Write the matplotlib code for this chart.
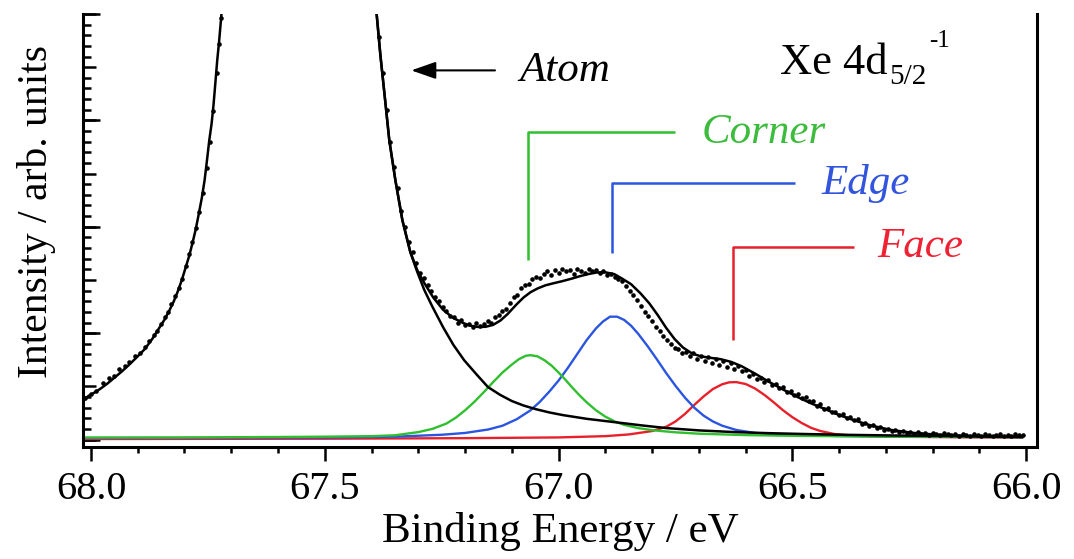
import matplotlib
matplotlib.use('Agg')
import matplotlib.pyplot as plt
import numpy as np

plt.rcParams['font.family'] = ['Liberation Serif', 'DejaVu Serif']

# fitted envelope, high-BE side of the atomic line
fit_left_e = [68.017, 68.006, 67.994, 67.981, 67.966, 67.951, 67.934, 67.917, 67.901, 67.885,
              67.869, 67.853, 67.842, 67.832, 67.823, 67.815, 67.806, 67.798, 67.790, 67.783,
              67.776, 67.770, 67.763, 67.757, 67.752, 67.747, 67.742, 67.738, 67.734, 67.730,
              67.726, 67.723, 67.721, 67.718]
fit_left_i = [3.62, 4.08, 4.38, 4.74, 5.22, 5.77, 6.40, 7.09, 7.78, 8.50,
              9.45, 10.56, 11.32, 12.16, 12.98, 13.85, 14.95, 16.10, 17.25, 18.45,
              19.75, 21.08, 22.70, 24.37, 26.20, 28.12, 29.70, 31.41, 33.50, 35.63,
              37.40, 38.92, 39.95, 41.5]

# fitted envelope, low-BE side (atom + cluster components)
fit_right_e = [67.392, 67.389, 67.381, 67.372, 67.362, 67.349, 67.334, 67.317, 67.302, 67.287,
               67.268, 67.247, 67.226, 67.204, 67.188, 67.172, 67.156, 67.140, 67.124, 67.109,
               67.090, 67.075, 67.060, 67.045, 67.028, 67.010, 66.991, 66.970, 66.955, 66.937,
               66.919, 66.900, 66.881, 66.865, 66.845, 66.825, 66.806, 66.788, 66.770, 66.752,
               66.734, 66.715, 66.696, 66.675, 66.653, 66.631, 66.609, 66.580, 66.549, 66.520,
               66.489, 66.460, 66.430, 66.400, 66.364, 66.330, 66.289, 66.240, 66.179, 66.100,
               66.009]
fit_right_i = [41.5, 39.95, 36.10, 32.35, 28.12, 24.37, 20.61, 17.61, 15.90, 14.70,
               13.35, 12.20, 11.45, 10.95, 10.70, 10.58, 10.60, 10.78, 11.20, 11.80,
               12.70, 13.35, 13.85, 14.20, 14.50, 14.70, 14.90, 15.15, 15.35, 15.55,
               15.70, 15.72, 15.55, 15.15, 14.60, 13.75, 12.80, 11.70, 10.50, 9.45,
               8.65, 8.10, 7.82, 7.68, 7.55, 7.30, 6.90, 6.20, 5.40, 4.70,
               4.00, 3.40, 2.86, 2.30, 1.75, 1.30, 0.90, 0.62, 0.42, 0.30,
               0.23]

# atomic component tail
atom_e = [67.392, 67.389, 67.381, 67.372, 67.362, 67.349, 67.334, 67.317, 67.302, 67.287,
          67.270, 67.247, 67.225, 67.202, 67.175, 67.151, 67.125, 67.100, 67.075, 67.049,
          67.020, 66.991, 66.940, 66.881, 66.820, 66.770, 66.700, 66.623, 66.550, 66.474,
          66.380, 66.279, 66.150, 66.009]
atom_i = [41.5, 39.95, 36.10, 32.35, 28.12, 24.37, 20.61, 17.61, 15.73, 14.04,
          12.50, 10.56, 8.90, 7.46, 6.10, 4.93, 4.20, 3.62, 3.20, 2.86,
          2.55, 2.30, 1.95, 1.64, 1.32, 1.08, 0.86, 0.70, 0.60, 0.52,
          0.44, 0.38, 0.32, 0.28]

# cluster components
corner_e = [68.017, 67.800, 67.600, 67.500, 67.400, 67.350, 67.300, 67.270, 67.240, 67.220,
            67.200, 67.180, 67.160, 67.140, 67.120, 67.100, 67.085, 67.070, 67.060, 67.045,
            67.030, 67.015, 67.000, 66.985, 66.970, 66.955, 66.940, 66.920, 66.900, 66.880,
            66.860, 66.830, 66.800, 66.750, 66.700, 66.600, 66.500, 66.300, 66.009]
corner_i = [0.19, 0.20, 0.24, 0.27, 0.32, 0.40, 0.70, 1.00, 1.50, 2.05,
            2.75, 3.55, 4.45, 5.40, 6.30, 7.05, 7.55, 7.88, 7.93, 7.82,
            7.45, 6.95, 6.30, 5.60, 4.85, 4.15, 3.50, 2.75, 2.15, 1.70,
            1.38, 1.08, 0.88, 0.68, 0.55, 0.42, 0.35, 0.28, 0.23]

edge_e = [68.017, 67.700, 67.500, 67.350, 67.250, 67.200, 67.150, 67.120, 67.090, 67.060,
          67.040, 67.020, 67.000, 66.980, 66.960, 66.940, 66.920, 66.905, 66.890, 66.875,
          66.860, 66.845, 66.830, 66.810, 66.790, 66.770, 66.750, 66.730, 66.710, 66.690,
          66.670, 66.650, 66.620, 66.580, 66.520, 66.400, 66.200, 66.009]
edge_i = [0.14, 0.16, 0.19, 0.27, 0.45, 0.62, 0.95, 1.30, 1.90, 2.75,
          3.55, 4.50, 5.55, 6.75, 8.05, 9.35, 10.45, 11.10, 11.55, 11.55,
          11.25, 10.70, 9.95, 8.80, 7.55, 6.25, 5.05, 3.95, 3.00, 2.25,
          1.70, 1.30, 0.90, 0.62, 0.45, 0.33, 0.26, 0.23]

face_e = [68.017, 67.500, 67.200, 67.000, 66.900, 66.850, 66.800, 66.770, 66.750, 66.730,
          66.710, 66.690, 66.670, 66.650, 66.635, 66.620, 66.600, 66.580, 66.560, 66.540,
          66.520, 66.500, 66.480, 66.460, 66.440, 66.410, 66.370, 66.300, 66.150, 66.009]
face_i = [0.05, 0.08, 0.13, 0.20, 0.32, 0.48, 0.80, 1.20, 1.70, 2.40,
          3.25, 4.05, 4.75, 5.20, 5.38, 5.40, 5.22, 4.80, 4.20, 3.50,
          2.75, 2.10, 1.55, 1.10, 0.80, 0.52, 0.36, 0.27, 0.22, 0.19]

# measured points
dots_e = [68.012, 68.000, 67.990, 67.975, 67.962, 67.950, 67.940, 67.928, 67.918, 67.905,
          67.895, 67.885, 67.875, 67.866, 67.858, 67.850, 67.842, 67.835, 67.828, 67.820,
          67.812, 67.805, 67.797, 67.790, 67.783, 67.776, 67.768, 67.760, 67.752, 67.745,
          67.738, 67.731, 67.726, 67.722,
          67.384, 67.376, 67.368, 67.360, 67.352, 67.344, 67.336, 67.328, 67.320, 67.312,
          67.304, 67.296, 67.288, 67.280, 67.272, 67.264, 67.256, 67.248, 67.240, 67.232,
          67.224, 67.216, 67.208, 67.200, 67.192, 67.184, 67.176, 67.168, 67.160, 67.152,
          67.144, 67.136, 67.128, 67.120, 67.112, 67.104, 67.096, 67.088, 67.080, 67.072,
          67.064, 67.056, 67.048, 67.040, 67.032, 67.024, 67.016, 67.008, 67.000, 66.992,
          66.984, 66.976, 66.968, 66.960, 66.952, 66.944, 66.936, 66.928, 66.920, 66.912,
          66.904, 66.896, 66.888, 66.880, 66.872, 66.864, 66.856, 66.848, 66.840, 66.832,
          66.824, 66.816, 66.808, 66.800, 66.792, 66.784, 66.776, 66.768, 66.760, 66.752,
          66.744, 66.736, 66.728, 66.720, 66.712, 66.704, 66.696, 66.688, 66.680, 66.672,
          66.664, 66.656, 66.648, 66.640, 66.632, 66.624, 66.616, 66.608, 66.600, 66.592,
          66.584, 66.576, 66.568, 66.560, 66.552, 66.544, 66.536, 66.528, 66.520, 66.512,
          66.504, 66.496, 66.488, 66.480, 66.472, 66.464, 66.456, 66.448, 66.440, 66.432,
          66.424, 66.416, 66.408, 66.400, 66.392, 66.384, 66.376, 66.368, 66.360, 66.352,
          66.344, 66.336, 66.328, 66.320, 66.312, 66.304, 66.296, 66.288, 66.280, 66.272,
          66.264, 66.256, 66.248, 66.240, 66.232, 66.224, 66.216, 66.208, 66.200, 66.192,
          66.184, 66.176, 66.168, 66.160, 66.152, 66.144, 66.136, 66.128, 66.120, 66.112,
          66.104, 66.096, 66.088, 66.080, 66.072, 66.064, 66.056, 66.048, 66.040, 66.032,
          66.024, 66.016, 66.008]
dots_i = [3.9, 4.3, 4.6, 5.3, 5.8, 6.0, 6.6, 6.9, 7.3, 7.9,
          8.1, 8.7, 9.3, 9.8, 10.2, 10.9, 11.5, 12.0, 12.7, 13.5,
          14.2, 15.1, 16.3, 17.4, 18.6, 19.9, 21.4, 23.2, 25.5, 28.0,
          30.9, 34.5, 37.2, 39.6,
          37.8, 34.5, 31.0, 28.0, 25.6, 23.6, 21.5, 20.0, 18.6, 17.6,
          16.6, 15.7, 15.2, 14.5, 14.0, 13.4, 13.0, 12.5, 12.1, 11.6,
          11.5, 11.0, 11.2, 10.8, 10.9, 10.6, 11.0, 10.7, 10.9, 11.1,
          11.0, 11.5, 11.7, 12.1, 12.3, 12.8, 13.4, 13.6, 14.2, 14.5,
          14.6, 15.1, 15.3, 15.2, 15.6, 15.8, 15.5, 15.9, 15.7, 16.0,
          15.8, 15.9, 15.6, 16.0, 15.8, 15.7, 16.0, 15.8, 15.9, 15.7,
          15.8, 15.5, 15.6, 15.3, 15.1, 14.9, 14.4, 14.0, 13.6, 13.1,
          12.6, 12.0, 11.6, 11.1, 10.6, 10.2, 9.7, 9.4, 9.0, 8.6,
          8.5, 8.1, 8.2, 7.9, 8.1, 7.6, 7.9, 7.4, 7.8, 7.2,
          7.6, 7.0, 7.4, 6.8, 7.2, 6.6, 6.9, 6.4, 6.5, 6.0,
          6.2, 5.7, 5.8, 5.4, 5.6, 5.1, 5.2, 4.8, 4.9, 4.5,
          4.6, 4.2, 4.3, 3.9, 4.0, 3.6, 3.6, 3.2, 3.3, 2.9,
          3.0, 2.6, 2.6, 2.3, 2.4, 2.0, 2.1, 1.8, 1.9, 1.5,
          1.6, 1.3, 1.4, 1.1, 1.2, 0.9, 1.0, 0.8, 0.9, 0.7,
          0.8, 0.6, 0.7, 0.5, 0.7, 0.5, 0.6, 0.4, 0.6, 0.5,
          0.4, 0.6, 0.5, 0.4, 0.5, 0.3, 0.5, 0.4, 0.3, 0.5,
          0.4, 0.3, 0.5, 0.4, 0.3, 0.4, 0.5, 0.3, 0.4, 0.3,
          0.5, 0.4, 0.4]

# component labels and marker positions
comp_names = ["Corner", "Edge", "Face"]
comp_centers = [67.066, 66.885, 66.626]
comp_colors = ["#2fbf2f", "#2a55e0", "#e8202a"]
label_colors = ["#3cbb3c", "#3355dd", "#ee2233"]
marker_bottom = [16.85, 17.51, 9.34]
marker_top = [28.87, 24.08, 18.08]
marker_end = [66.751, 66.494, 66.368]
text_left = [66.694, 66.438, 66.319]

x_ticks = [68.0, 67.5, 67.0, 66.5, 66.0]
x_ticklabels = ["68.0", "67.5", "67.0", "66.5", "66.0"]

W, H = 1074, 559
fig = plt.figure(figsize=(W / 100, H / 100), dpi=100)
ax = fig.add_axes([83 / W, 1 - 447 / H, 954 / W, 433 / H])

ax.plot(face_e, face_i, color=comp_colors[2], lw=1.7)
ax.plot(edge_e, edge_i, color=comp_colors[1], lw=1.7)
ax.plot(corner_e, corner_i, color=comp_colors[0], lw=1.7)
ax.plot(atom_e, atom_i, color='black', lw=1.8)
ax.plot(fit_right_e, fit_right_i, color='black', lw=1.8)
ax.plot(fit_left_e, fit_left_i, color='black', lw=1.8)
ax.plot(dots_e, dots_i, 'o', color='black', ms=3.3, mew=0)

# bracket markers for the cluster components
for name, c, col, lc, yb, yt, xe, xt in zip(comp_names, comp_centers, comp_colors,
                                            label_colors, marker_bottom, marker_top,
                                            marker_end, text_left):
    ax.plot([c, c, xe], [yb, yt, yt], color=col, lw=1.8, solid_capstyle='butt')
    ax.text(xt, yt, name, color=lc, fontsize=31, style='italic', ha='left', va='center')

ax.annotate('', xy=(67.315, 34.7), xytext=(67.136, 34.7),
            arrowprops=dict(arrowstyle='-|>,head_length=1.0,head_width=0.35',
                            color='black', lw=1.5, mutation_scale=15,
                            shrinkA=0, shrinkB=0))
ax.text(67.083, 34.7, "Atom", fontsize=31, style='italic', ha='left', va='center')

fig.text(780 / W, 1 - 74 / H, "Xe 4d", fontsize=32, va='baseline')
fig.text(889 / W, 1 - 84 / H, "5/2", fontsize=21, va='baseline')
fig.text(929 / W, 1 - 47 / H, "-1", fontsize=18, va='baseline')

ax.set_xlim(68.017, 65.977)
ax.set_ylim(-0.7, 40.0)

ax.set_xticks(x_ticks)
ax.set_xticklabels(x_ticklabels)
ax.set_xticks(np.arange(66.0, 68.01, 0.1), minor=True)
ax.tick_params(axis='x', which='major', direction='out', length=10, width=1.8,
               labelsize=29, pad=7)
ax.tick_params(axis='x', which='minor', direction='out', length=4.5, width=1.8)

ax.set_yticks(np.arange(0, 41, 5))
ax.set_yticks(np.arange(0, 41, 1), minor=True)
ax.tick_params(axis='y', which='major', direction='in', length=9, width=1.8,
               labelleft=False)
ax.tick_params(axis='y', which='minor', direction='in', length=5.5, width=1.8)
sec = ax.secondary_yaxis('left')
sec.set_yticks(np.arange(0, 41, 10))
sec.tick_params(direction='in', length=12.5, width=1.8, labelleft=False)
sec.spines['left'].set_visible(False)

for side in ['left', 'bottom', 'right']:
    ax.spines[side].set_linewidth(2.2)
ax.spines['top'].set_visible(False)

ax.set_xlabel("Binding Energy / eV", fontsize=31)
ax.xaxis.set_label_coords(0.5, -0.15)
ax.set_ylabel("Intensity / arb. units", fontsize=30)
ax.yaxis.set_label_coords(-0.028, 0.543)

fig.savefig("out.png", dpi=100)
